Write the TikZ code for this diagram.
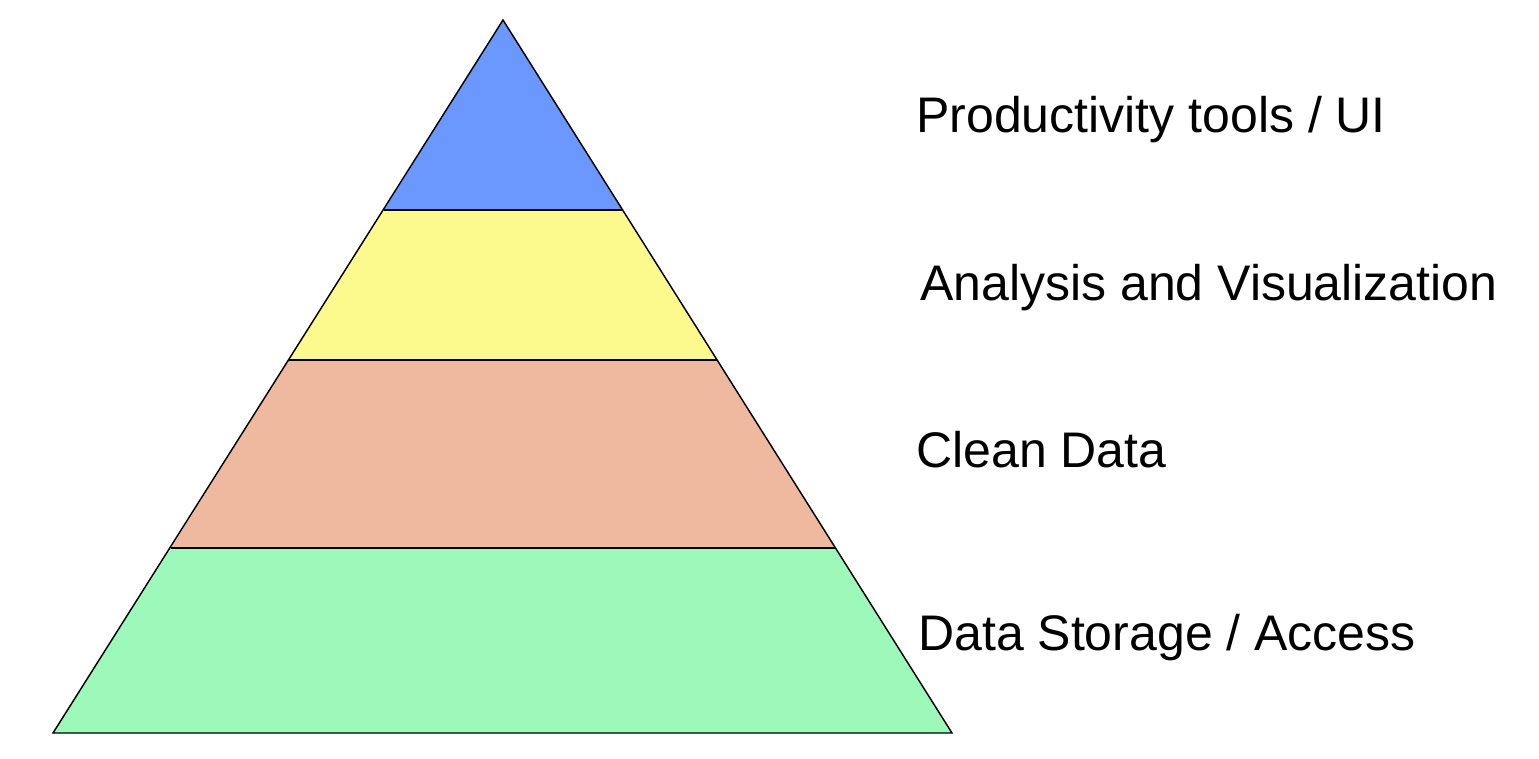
\documentclass[tikz,border=0pt]{standalone}
\usepackage{fontspec}
\setmainfont{Liberation Sans}
\begin{document}
\begin{tikzpicture}[x=0.75pt,y=-0.75pt,
  edge/.style={draw=black,line width=1.1pt,line join=miter},
  lbl/.style={anchor=base west,inner sep=0pt,font=\fontsize{37.5}{45}\selectfont}]
\useasboundingbox (0,0) rectangle (1539,758);
\definecolor{cblue}{RGB}{106,152,255}
\definecolor{cyellow}{RGB}{252,250,140}
\definecolor{csalmon}{RGB}{239,185,160}
\definecolor{cgreen}{RGB}{156,249,185}
\coordinate (apex) at (503,20);
\coordinate (bl) at (53,733);
\coordinate (br) at (952,733);
\coordinate (l1) at (384,210);
\coordinate (r1) at (622,210);
\coordinate (l2) at (289,360);
\coordinate (r2) at (717,360);
\coordinate (l3) at (171,548);
\coordinate (r3) at (835,548);
\fill[cblue] (apex) -- (r1) -- (l1) -- cycle;
\fill[cyellow] (l1) -- (r1) -- (r2) -- (l2) -- cycle;
\fill[csalmon] (l2) -- (r2) -- (r3) -- (l3) -- cycle;
\fill[cgreen] (l3) -- (r3) -- (br) -- (bl) -- cycle;
\draw[edge] (l1) -- (r1);
\draw[edge] (l2) -- (r2);
\draw[edge] (l3) -- (r3);
\draw[edge] (apex) -- (br) -- (bl) -- cycle;
\node[lbl] (t1) at (916,132) {Productivity tools / UI};
\node[lbl] (t2) at (920,300) {Analysis and Visualization};
\node[lbl] (t3) at (916,467) {Clean Data};
\node[lbl] (t4) at (918,650) {Data Storage / Access};
\end{tikzpicture}
\end{document}
